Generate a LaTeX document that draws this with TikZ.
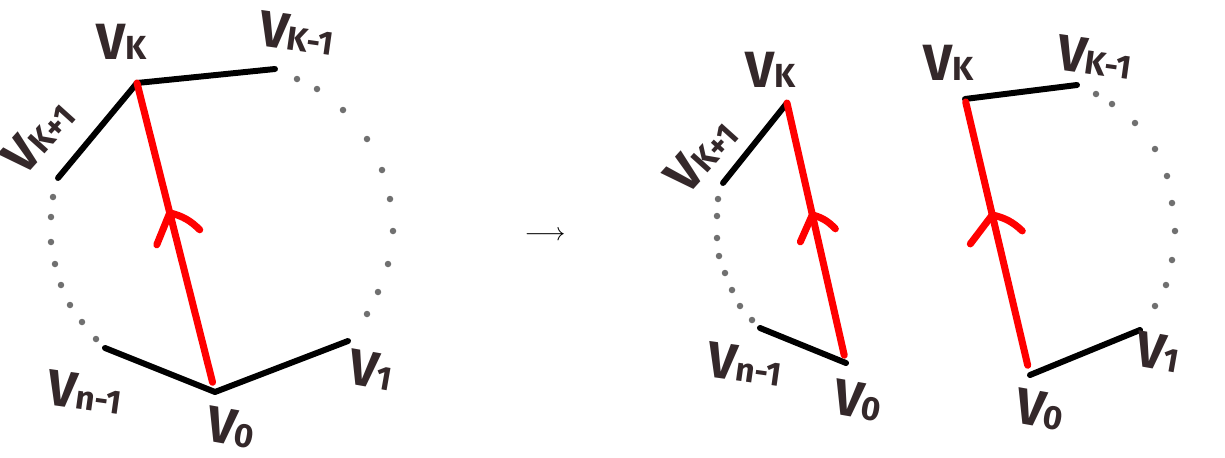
\documentclass[tikz,border=0pt]{standalone}
\usepackage{fontspec}
\setmainfont{Fira Sans}
\usetikzlibrary{calc}
\definecolor{inkbrown}{HTML}{34282A}
\definecolor{dotgray}{HTML}{707070}
\definecolor{pathred}{HTML}{FF0000}
\newcommand{\vlab}[1]{V{\fontsize{19}{19}\selectfont #1}}
\tikzset{
    side/.style={line width=3.4pt, black, line cap=round, line join=round},
    chord/.style={line width=4pt, color=pathred, line cap=round, line join=round},
    gapdot/.style={circle, fill=dotgray, inner sep=0pt, minimum size=0.13cm},
    vlabel/.style={font=\fontsize{29}{29}\selectfont\bfseries, text=inkbrown, inner sep=0pt},
}
\begin{document}
\begin{tikzpicture}[x=0.02cm, y=-0.02cm]
    \useasboundingbox (0,0) rectangle (1225,457);

    % left polygon
    \coordinate (lk) at (137,83);
    \coordinate (lkm) at (275,69);
    \coordinate (lkp) at (58,178);
    \coordinate (lnm) at (105,348);
    \coordinate (lz) at (215,392);
    \coordinate (lo) at (348,341);

    \draw[side] (lkp) -- (lk) -- (lkm);
    \draw[side] (lnm) -- (lz) -- (lo);
    \draw[chord, shorten <=0.2cm] (lz) -- (lk) coordinate[pos=0.58] (larr);
    \draw[chord] ($(larr)+(-13,32)$) -- (larr) to[bend left=15] ($(larr)+(30,17)$);

    \foreach \p in {(53,197),(51,217),(51,242),(55,264),(61,285),(70,305),(82,322),(96,339),
                    (297,79),(317,89),(343,110),(367,139),(382,170),(390,199),(393,231),(388,264),(378,292),(367,314)}
        \node[gapdot] at \p {};

    \node[vlabel] (lk lab) at (122,42) {\vlab{K}};
    \node[vlabel, rotate=-8] (lkm lab) at (297,33) {\vlab{K-1}};
    \node[vlabel, rotate=48] (lkp lab) at (38,136) {\vlab{K+1}};
    \node[vlabel, rotate=-8] (lnm lab) at (85,392) {\vlab{n-1}};
    \node[vlabel, rotate=-10] (lo lab) at (371,370) {\vlab{1}};
    \node[vlabel, rotate=-10] (lz lab) at (231,428) {\vlab{0}};

    % transition
    \node[font=\Large] (step arrow) at (545,236) {$\longrightarrow$};

    % middle polygon
    \coordinate (mk) at (787,103);
    \coordinate (mkp) at (723,183);
    \coordinate (mnm) at (760,328);
    \coordinate (mz) at (846,363);

    \draw[side] (mkp) -- (mk);
    \draw[side] (mnm) -- (mz);
    \draw[chord, shorten <=0.16cm] (mz) -- (mk) coordinate[pos=0.57] (marr);
    \draw[chord] ($(marr)+(-12,27)$) -- (marr) to[bend left=15] ($(marr)+(23,14)$);

    \foreach \p in {(718,199),(717,216),(717,238),(719,256),(725,273),(732,290),(740,306),(752,320)}
        \node[gapdot] at \p {};

    \node[vlabel] (mk lab) at (771,70) {\vlab{K}};
    \node[vlabel, rotate=48] (mkp lab) at (701,155) {\vlab{K+1}};
    \node[vlabel, rotate=-8] (mnm lab) at (745,364) {\vlab{n-1}};
    \node[vlabel, rotate=-10] (mz lab) at (858,401) {\vlab{0}};

    % right polygon
    \coordinate (rk) at (965,99);
    \coordinate (rkm) at (1077,85);
    \coordinate (rz) at (1030,375);
    \coordinate (ro) at (1140,330);

    \draw[side] (rk) -- (rkm);
    \draw[side] (rz) -- (ro);
    \draw[chord, shorten <=0.2cm, shorten >=0.06cm] (rz) -- (rk) coordinate[pos=0.58] (rarr);
    \draw[chord] ($(rarr)+(-22,29)$) -- (rarr) to[bend left=15] ($(rarr)+(30,16)$);

    \foreach \p in {(1096,94),(1112,104),(1135,123),(1155,149),(1167,176),(1172,203),(1175,231),(1172,260),(1166,285),(1155,306)}
        \node[gapdot] at \p {};

    \node[vlabel] (rk lab) at (949,63) {\vlab{K}};
    \node[vlabel, rotate=-8] (rkm lab) at (1095,57) {\vlab{K-1}};
    \node[vlabel, rotate=-10] (ro lab) at (1158,352) {\vlab{1}};
    \node[vlabel, rotate=-10] (rz lab) at (1040,410) {\vlab{0}};
\end{tikzpicture}
\end{document}
